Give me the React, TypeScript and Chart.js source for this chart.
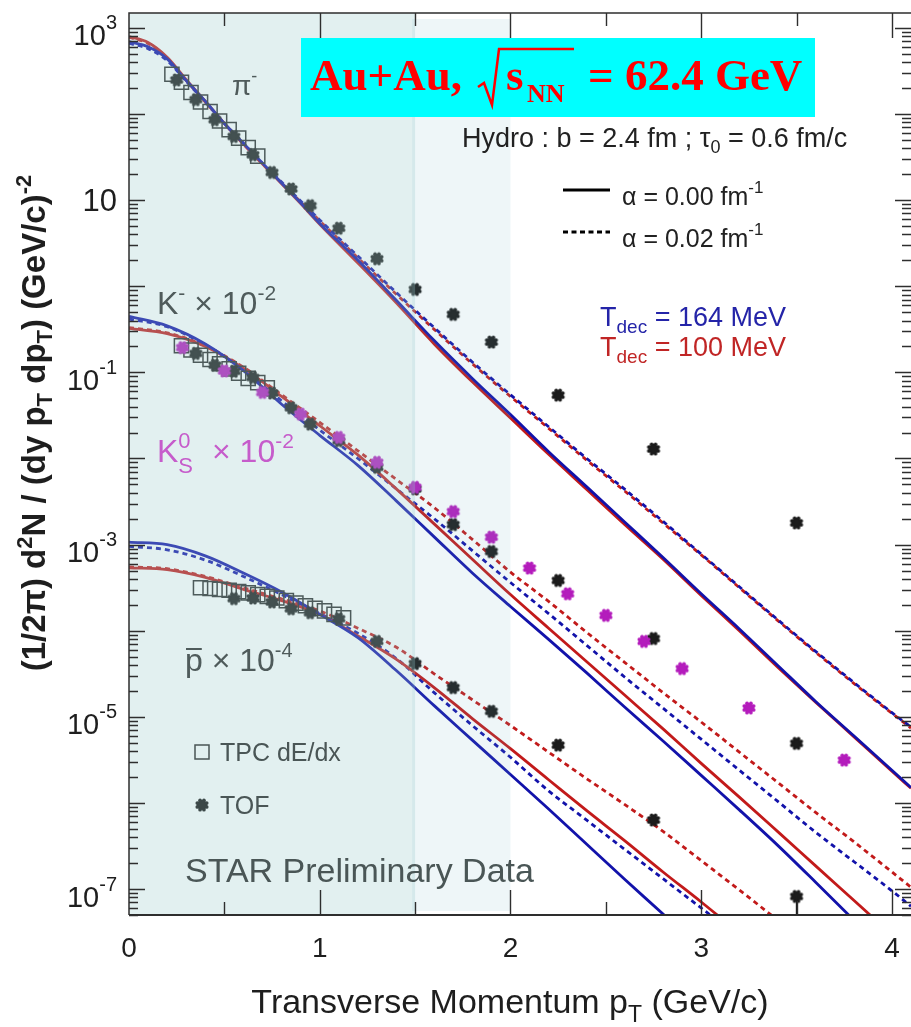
import React, { useEffect, useRef } from "react";
import { Chart, registerables } from "chart.js";

Chart.register(...registerables);

// ---- axis limits ----
const xMin = 0;
const xMax = 4.1;
const yMin = 5e-8;
const yMax = 1.49e3;

// ---- hydro curves: pi- ----
const pionX = [0, 0.1, 0.2, 0.3, 0.4, 0.5, 0.6, 0.7, 0.8, 0.9, 1.0, 1.2, 1.4, 1.6, 1.8, 2.0, 2.2, 2.4, 2.6, 2.8, 3.0, 3.2, 3.4, 3.6, 3.8, 4.0, 4.1];
const pionT164a0 = [692, 603, 437, 245, 141, 77.6, 45.7, 26.9, 15.8, 9.33, 5.37, 2.0, 0.692, 0.234, 0.0851, 0.0324, 0.012, 0.00468, 0.00182, 7.08e-4, 2.69e-4, 1.05e-4, 3.98e-5, 1.51e-5, 6.03e-6, 2.4e-6, 1.51e-6];
const pionT100a0 = [794, 676, 457, 251, 141, 77.6, 44.7, 26.3, 15.5, 9.12, 5.25, 1.86, 0.646, 0.214, 0.0776, 0.0295, 0.0112, 0.00437, 0.0017, 6.76e-4, 2.57e-4, 1.0e-4, 3.8e-5, 1.48e-5, 5.89e-6, 2.34e-6, 1.48e-6];
const pionT164a2 = [661, 575, 417, 240, 138, 77.6, 45.7, 26.9, 16.2, 9.77, 5.89, 2.24, 0.851, 0.331, 0.132, 0.055, 0.0234, 0.01, 0.00437, 0.00186, 7.76e-4, 3.24e-4, 1.35e-4, 5.75e-5, 2.51e-5, 1.12e-5, 7.59e-6];
const pionT100a2 = [776, 661, 447, 245, 138, 77.6, 44.7, 26.3, 15.8, 9.55, 5.75, 2.14, 0.813, 0.316, 0.126, 0.0525, 0.0224, 0.00955, 0.00417, 0.00178, 7.59e-4, 3.16e-4, 1.32e-4, 5.62e-5, 2.45e-5, 1.1e-5, 7.41e-6];

// ---- hydro curves: K- x 1e-2 ----
const kaonX = [0, 0.2, 0.4, 0.6, 0.8, 1.0, 1.2, 1.4, 1.6, 1.8, 2.0, 2.2, 2.4, 2.6, 2.8, 3.0, 3.2, 3.4, 3.6, 3.8, 4.0, 4.1];
const kaonT164a0 = [0.447, 0.347, 0.214, 0.105, 0.0427, 0.0186, 0.00832, 0.00324, 0.00123, 4.68e-4, 1.91e-4, 7.94e-5, 3.24e-5, 1.29e-5, 5.25e-6, 2.09e-6, 8.32e-7, 3.24e-7, 1.2e-7, 4.37e-8, 1.58e-8, 1.0e-8];
const kaonT100a0 = [0.324, 0.282, 0.2, 0.112, 0.0525, 0.024, 0.011, 0.00447, 0.00174, 6.76e-4, 2.63e-4, 1.07e-4, 4.37e-5, 1.78e-5, 7.24e-6, 2.88e-6, 1.17e-6, 4.68e-7, 1.86e-7, 7.41e-8, 2.95e-8, 1.86e-8];
const kaonT164a2 = [0.417, 0.339, 0.209, 0.107, 0.0468, 0.0214, 0.01, 0.00447, 0.002, 8.51e-4, 3.63e-4, 1.58e-4, 6.76e-5, 2.88e-5, 1.26e-5, 5.5e-6, 2.4e-6, 1.05e-6, 4.57e-7, 2.09e-7, 9.55e-8, 6.31e-8];
const kaonT100a2 = [0.331, 0.288, 0.204, 0.115, 0.055, 0.0263, 0.0123, 0.00575, 0.00269, 0.00115, 4.79e-4, 2.19e-4, 9.55e-5, 4.27e-5, 1.91e-5, 8.71e-6, 3.89e-6, 1.74e-6, 7.76e-7, 3.55e-7, 1.58e-7, 1.05e-7];

// ---- hydro curves: anti-proton x 1e-4 ----
const protonX = [0, 0.2, 0.4, 0.6, 0.8, 1.0, 1.2, 1.4, 1.6, 1.8, 2.0, 2.2, 2.4, 2.6, 2.8, 3.0, 3.2, 3.4];
const protonT164a0 = [1.07e-3, 1.0e-3, 7.41e-4, 4.68e-4, 2.82e-4, 1.55e-4, 8.32e-5, 3.47e-5, 1.35e-5, 5.37e-6, 2.14e-6, 8.51e-7, 3.31e-7, 1.29e-7, 5.13e-8, 2.0e-8, 8e-9, 3e-9];
const protonT100a0 = [5.37e-4, 5.13e-4, 4.17e-4, 3.02e-4, 2.24e-4, 1.55e-4, 8.71e-5, 4.68e-5, 2.19e-5, 9.55e-6, 4.27e-6, 1.86e-6, 8.13e-7, 3.63e-7, 1.58e-7, 7.08e-8, 3.09e-8, 1.35e-8];
const protonT164a2 = [9.55e-4, 8.71e-4, 6.61e-4, 4.27e-4, 2.63e-4, 1.58e-4, 9.33e-5, 4.79e-5, 1.91e-5, 7.94e-6, 3.39e-6, 1.38e-6, 6.31e-7, 2.88e-7, 1.32e-7, 6.03e-8, 2.75e-8, 1.25e-8];
const protonT100a2 = [5.5e-4, 5.25e-4, 4.27e-4, 3.16e-4, 2.34e-4, 1.7e-4, 1.07e-4, 6.46e-5, 3.16e-5, 1.58e-5, 7.94e-6, 3.89e-6, 1.91e-6, 9.55e-7, 4.68e-7, 2.14e-7, 9.77e-8, 4.37e-8];

// ---- STAR preliminary data ----
const pionTpcX = [0.225, 0.275, 0.325, 0.375, 0.425, 0.475, 0.525, 0.575, 0.625, 0.675];
const pionTpcY = [290, 234, 178, 138, 107, 83, 66, 52.5, 40.7, 32.4];
const pionTofX = [0.25, 0.35, 0.45, 0.55, 0.65, 0.75, 0.85, 0.95, 1.1, 1.3, 1.5, 1.7, 1.9, 2.25, 2.75, 3.5];
const pionTofY = [249, 147, 86, 55, 33.7, 21, 13.5, 8.65, 4.73, 2.09, 0.92, 0.472, 0.225, 0.0545, 0.0129, 0.00179];

const kaonTpcX = [0.275, 0.325, 0.375, 0.425, 0.475, 0.525, 0.575, 0.625, 0.675, 0.725];
const kaonTpcY = [0.204, 0.182, 0.158, 0.141, 0.126, 0.11, 0.0977, 0.0851, 0.0759, 0.0661];
const kaonTofX = [0.35, 0.45, 0.55, 0.65, 0.75, 0.85, 0.95, 1.1, 1.3, 1.5, 1.7, 1.9, 2.25, 2.75, 3.5];
const kaonTofY = [0.166, 0.1216, 0.103, 0.0873, 0.0577, 0.0389, 0.0251, 0.0161, 0.0079, 0.00444, 0.00171, 8.32e-4, 3.84e-4, 8.13e-5, 4.92e-6];

const k0sX = [0.28, 0.5, 0.7, 0.9, 1.1, 1.3, 1.5, 1.7, 1.9, 2.1, 2.3, 2.5, 2.7, 2.9, 3.25, 3.75];
const k0sY = [0.194, 0.104, 0.0585, 0.0328, 0.0176, 0.00904, 0.00463, 0.00242, 0.00122, 5.35e-4, 2.69e-4, 1.51e-4, 7.53e-5, 3.64e-5, 1.27e-5, 3.15e-6];

const protonTpcX = [0.375, 0.425, 0.475, 0.525, 0.575, 0.625, 0.675, 0.725, 0.775, 0.825, 0.875, 0.925, 0.975, 1.025, 1.075, 1.125];
const protonTpcY = [3.16e-4, 3.09e-4, 3.02e-4, 2.95e-4, 2.85e-4, 2.75e-4, 2.63e-4, 2.51e-4, 2.4e-4, 2.24e-4, 2.09e-4, 1.95e-4, 1.82e-4, 1.7e-4, 1.55e-4, 1.41e-4];
const protonTofX = [0.55, 0.65, 0.75, 0.85, 0.95, 1.1, 1.3, 1.5, 1.7, 1.9, 2.25, 2.75, 3.5];
const protonTofY = [2.36e-4, 2.4e-4, 2.16e-4, 1.8e-4, 1.62e-4, 1.38e-4, 7.53e-5, 4.16e-5, 2.19e-5, 1.16e-5, 4.7e-6, 6.35e-7, 8.22e-8];

// lower error bar of the last anti-proton point
const protonErrX = [3.5, 3.5];
const protonErrY = [8.22e-8, 1e-8];

// ---- shaded pT bands ----
const bandInner = [0, 1.5];
const bandOuter = [1.485, 2.0];

// ---- tick labels ----
const yLabelValues = [1e3, 1e1, 1e-1, 1e-3, 1e-5, 1e-7];
const yLabelExps = ["3", "", "-1", "-3", "-5", "-7"];
const xLabelValues = [0, 1, 2, 3, 4];

const SANS = '"Liberation Sans", Arial, Helvetica, sans-serif';
const SERIF = '"Liberation Serif", "Times New Roman", serif';

const BLUE = "#1212aa";
const RED = "#c21a1a";
const DARK = "#1c1c1c";
const MAGENTA = "#b41cbc";

type Seg = { t: string; s: number; dy?: number; w?: string; f?: string; stay?: boolean };

function segFont(g: Seg) {
  return `${g.w || "normal"} ${g.s}px ${g.f || SANS}`;
}

function richWidth(ctx: CanvasRenderingContext2D, segs: Seg[]) {
  let w = 0;
  for (const g of segs) {
    ctx.font = segFont(g);
    if (!g.stay) w += ctx.measureText(g.t).width;
  }
  return w;
}

function drawRich(
  ctx: CanvasRenderingContext2D,
  x: number,
  y: number,
  segs: Seg[],
  align: "left" | "center" | "right",
  color: string
) {
  const total = richWidth(ctx, segs);
  let cx = align === "center" ? x - total / 2 : align === "right" ? x - total : x;
  ctx.fillStyle = color;
  ctx.textAlign = "left";
  ctx.textBaseline = "alphabetic";
  for (const g of segs) {
    ctx.font = segFont(g);
    ctx.fillText(g.t, cx, y + (g.dy || 0));
    if (!g.stay) cx += ctx.measureText(g.t).width;
  }
  return cx;
}

function cogPath(ctx: CanvasRenderingContext2D, cx: number, cy: number, r: number) {
  ctx.beginPath();
  ctx.arc(cx, cy, r, 0, Math.PI * 2);
  ctx.fill();
  for (let i = 0; i < 8; i++) {
    const a = (i * Math.PI) / 4 + Math.PI / 8;
    ctx.beginPath();
    ctx.arc(cx + Math.cos(a) * r, cy + Math.sin(a) * r, r * 0.36, 0, Math.PI * 2);
    ctx.fill();
  }
}

function makeCog(color: string) {
  const c = document.createElement("canvas");
  c.width = 18;
  c.height = 18;
  const g = c.getContext("2d")!;
  g.fillStyle = color;
  cogPath(g, 9, 9, 5.1);
  return c;
}

function pts(xs: number[], ys: number[]) {
  return xs.map((x, i) => ({ x, y: ys[i] }));
}

const decorPlugin = {
  id: "decor",
  afterDatasetsDraw(chart: any) {
    const { ctx, chartArea: ca, scales } = chart;
    const xs = scales.x;
    ctx.save();
    // translucent acceptance bands over the data
    const a0 = xs.getPixelForValue(bandInner[0]);
    const a1 = xs.getPixelForValue(bandInner[1]);
    ctx.fillStyle = "rgba(158,205,205,0.30)";
    ctx.fillRect(a0, ca.top, a1 - a0, ca.bottom - ca.top);
    const b0 = xs.getPixelForValue(bandOuter[0]);
    const b1 = xs.getPixelForValue(bandOuter[1]);
    ctx.fillStyle = "rgba(113,180,197,0.12)";
    ctx.fillRect(b0, ca.top + 6, b1 - b0, ca.bottom - ca.top - 10);
    ctx.restore();
  },
  afterDraw(chart: any) {
    const { ctx, chartArea: ca, scales } = chart;
    const xs = scales.x;
    const ys = scales.y;
    ctx.save();

    // frame
    ctx.strokeStyle = "#2e2e2e";
    ctx.lineWidth = 1.5;
    ctx.beginPath();
    ctx.moveTo(ca.left, ca.bottom);
    ctx.lineTo(ca.left, ca.top);
    ctx.lineTo(ca.right, ca.top);
    ctx.stroke();
    ctx.lineWidth = 2.2;
    ctx.beginPath();
    ctx.moveTo(ca.left, ca.bottom);
    ctx.lineTo(ca.right, ca.bottom);
    ctx.stroke();

    // log ticks on left and right
    ctx.lineWidth = 1.4;
    for (let e = -9; e <= 4; e++) {
      for (let s = 1; s <= 9; s++) {
        const v = s * Math.pow(10, e);
        if (v < ys.min || v > ys.max) continue;
        const y = Math.round(ys.getPixelForValue(v)) + 0.5;
        const len = s === 1 ? 16 : 9;
        ctx.beginPath();
        ctx.moveTo(ca.left, y);
        ctx.lineTo(ca.left + len, y);
        ctx.moveTo(ca.right, y);
        ctx.lineTo(ca.right - len, y);
        ctx.stroke();
      }
    }
    // linear ticks on bottom and top
    for (let k = 1; k * 0.5 <= xs.max; k++) {
      const v = k * 0.5;
      const x = Math.round(xs.getPixelForValue(v)) + 0.5;
      const len = k % 2 === 0 ? 25 : 13;
      ctx.beginPath();
      ctx.moveTo(x, ca.bottom);
      ctx.lineTo(x, ca.bottom - len);
      ctx.moveTo(x, ca.top);
      ctx.lineTo(x, ca.top + len);
      ctx.stroke();
    }

    // y tick labels
    const labelRight = 117;
    yLabelValues.forEach((v, i) => {
      const y = ys.getPixelForValue(v);
      const ex = yLabelExps[i];
      if (ex) {
        ctx.font = `20px ${SANS}`;
        const ew = ctx.measureText(ex).width;
        const bl = y + 17.5;
        drawRich(ctx, labelRight - ew, bl, [{ t: "10", s: 29 }], "right", "#1e1e1e");
        drawRich(ctx, labelRight - ew, bl - 16, [{ t: ex, s: 20 }], "left", "#1e1e1e");
      } else {
        drawRich(ctx, labelRight, y + 11, [{ t: "10", s: 31 }], "right", "#1e1e1e");
      }
    });

    // x tick labels
    xLabelValues.forEach((v) => {
      const x = xs.getPixelForValue(v);
      drawRich(ctx, x, 957, [{ t: String(v), s: 28 }], "center", "#1e1e1e");
    });

    // axis titles
    drawRich(
      ctx,
      510,
      1013,
      [
        { t: "Transverse Momentum p", s: 34 },
        { t: "T", s: 23, dy: 9 },
        { t: " (GeV/c)", s: 34 },
      ],
      "center",
      "#1e1e1e"
    );
    ctx.save();
    ctx.translate(45, 423);
    ctx.rotate(-Math.PI / 2);
    drawRich(
      ctx,
      0,
      0,
      [
        { t: "(1/2\u03c0) d", s: 33, w: "bold" },
        { t: "2", s: 22, dy: -13, w: "bold" },
        { t: "N / (dy p", s: 33, w: "bold" },
        { t: "T", s: 22, dy: 7, w: "bold" },
        { t: " dp", s: 33, w: "bold" },
        { t: "T", s: 22, dy: 7, w: "bold" },
        { t: ") (GeV/c)", s: 33, w: "bold" },
        { t: "-2", s: 22, dy: -14, w: "bold" },
      ],
      "center",
      "#1e1e1e"
    );
    ctx.restore();

    // species labels
    const gray = "#4f5b5b";
    drawRich(ctx, 232, 95, [{ t: "\u03c0", s: 28 }, { t: "-", s: 18, dy: -13 }], "left", gray);
    drawRich(
      ctx,
      157,
      314,
      [
        { t: "K", s: 32 },
        { t: "-", s: 21, dy: -14 },
        { t: " \u00d7 10", s: 32 },
        { t: "-2", s: 21, dy: -14 },
      ],
      "left",
      gray
    );
    const magText = "#c65ccb";
    drawRich(
      ctx,
      157,
      462,
      [
        { t: "K", s: 32 },
        { t: "0", s: 22, dy: -14, stay: true },
        { t: "S", s: 22, dy: 11 },
      ],
      "left",
      magText
    );
    drawRich(ctx, 212, 462, [{ t: "\u00d7 10", s: 32 }, { t: "-2", s: 21, dy: -14 }], "left", magText);
    const pEnd = drawRich(ctx, 185, 671, [{ t: "p", s: 32 }], "left", gray);
    ctx.strokeStyle = gray;
    ctx.lineWidth = 2;
    ctx.beginPath();
    ctx.moveTo(186, 649);
    ctx.lineTo(pEnd - 1, 649);
    ctx.stroke();
    drawRich(ctx, pEnd, 671, [{ t: " \u00d7 10", s: 32 }, { t: "-4", s: 20, dy: -14 }], "left", gray);

    // data legend
    ctx.strokeStyle = "#4a5656";
    ctx.lineWidth = 1.5;
    ctx.strokeRect(195, 745, 14, 14);
    drawRich(ctx, 220, 761, [{ t: "TPC dE/dx", s: 25 }], "left", "#4a5656");
    ctx.fillStyle = "#3c4848";
    cogPath(ctx, 202, 805, 5.1);
    drawRich(ctx, 220, 814, [{ t: "TOF", s: 25 }], "left", "#4a5656");
    drawRich(ctx, 185, 882, [{ t: "STAR Preliminary Data", s: 34 }], "left", "#4a5656");

    // hydro annotations
    drawRich(
      ctx,
      462,
      147,
      [
        { t: "Hydro : b = 2.4 fm ; \u03c4", s: 27 },
        { t: "0", s: 18, dy: 6 },
        { t: " = 0.6 fm/c", s: 27 },
      ],
      "left",
      "#222222"
    );
    ctx.strokeStyle = "#000000";
    ctx.lineWidth = 3;
    ctx.beginPath();
    ctx.moveTo(563, 190);
    ctx.lineTo(610, 190);
    ctx.stroke();
    ctx.setLineDash([5, 3.5]);
    ctx.beginPath();
    ctx.moveTo(563, 232);
    ctx.lineTo(610, 232);
    ctx.stroke();
    ctx.setLineDash([]);
    drawRich(ctx, 622, 205, [{ t: "\u03b1 = 0.00 fm", s: 25 }, { t: "-1", s: 17, dy: -12 }], "left", "#222222");
    drawRich(ctx, 622, 247, [{ t: "\u03b1 = 0.02 fm", s: 25 }, { t: "-1", s: 17, dy: -12 }], "left", "#222222");

    drawRich(
      ctx,
      600,
      326,
      [
        { t: "T", s: 27 },
        { t: "dec", s: 19, dy: 7 },
        { t: " = 164 MeV", s: 27 },
      ],
      "left",
      "#2424a8"
    );
    drawRich(
      ctx,
      600,
      356,
      [
        { t: "T", s: 27 },
        { t: "dec", s: 19, dy: 7 },
        { t: " = 100 MeV", s: 27 },
      ],
      "left",
      "#c02525"
    );

    // collision system banner
    ctx.fillStyle = "#00ffff";
    ctx.fillRect(301, 38, 514, 79);
    const red = "#ff0000";
    drawRich(ctx, 310, 90, [{ t: "Au+Au,", s: 45, w: "bold", f: SERIF }], "left", red);
    ctx.strokeStyle = red;
    ctx.lineWidth = 2.5;
    ctx.lineJoin = "miter";
    ctx.beginPath();
    ctx.moveTo(478, 87);
    ctx.lineTo(484, 83);
    ctx.lineTo(492, 105);
    ctx.lineTo(499, 49);
    ctx.lineTo(574, 49);
    ctx.stroke();
    drawRich(ctx, 506, 90, [{ t: "s", s: 45, w: "bold", f: SERIF }], "left", red);
    drawRich(ctx, 527, 102, [{ t: "NN", s: 26, w: "bold", f: SERIF }], "left", red);
    drawRich(ctx, 588, 90, [{ t: "= 62.4 GeV", s: 45, w: "bold", f: SERIF }], "left", red);

    ctx.restore();
  },
};

export default function App() {
  const ref = useRef<HTMLCanvasElement | null>(null);

  useEffect(() => {
    document.body.style.margin = "0";
    const canvas = ref.current;
    if (!canvas) return;
    const cogDark = makeCog(DARK);
    const cogMag = makeCog(MAGENTA);

    const curve = (xs: number[], ys: number[], color: string, dotted: boolean) => ({
      data: pts(xs, ys),
      borderColor: color,
      borderWidth: 2.8,
      borderDash: dotted ? [5, 4] : [],
      pointRadius: 0,
      fill: false,
      showLine: true,
      cubicInterpolationMode: "monotone" as const,
      order: 3,
    });
    const squares = (xs: number[], ys: number[]) => ({
      data: pts(xs, ys),
      showLine: false,
      pointStyle: "rect" as const,
      pointRadius: 10,
      pointBorderWidth: 1.5,
      pointBorderColor: "#2a2a2a",
      pointBackgroundColor: "rgba(0,0,0,0)",
      order: 2,
    });
    const cogs = (xs: number[], ys: number[], img: HTMLCanvasElement, order: number) => ({
      data: pts(xs, ys),
      showLine: false,
      pointStyle: img,
      pointRadius: 7,
      order,
    });

    const chart = new Chart(canvas, {
      type: "line",
      data: {
        datasets: [
          curve(pionX, pionT164a0, BLUE, false),
          curve(pionX, pionT100a0, RED, false),
          curve(pionX, pionT164a2, BLUE, true),
          curve(pionX, pionT100a2, RED, true),
          curve(kaonX, kaonT164a0, BLUE, false),
          curve(kaonX, kaonT100a0, RED, false),
          curve(kaonX, kaonT164a2, BLUE, true),
          curve(kaonX, kaonT100a2, RED, true),
          curve(protonX, protonT164a0, BLUE, false),
          curve(protonX, protonT100a0, RED, false),
          curve(protonX, protonT164a2, BLUE, true),
          curve(protonX, protonT100a2, RED, true),
          squares(pionTpcX, pionTpcY),
          squares(kaonTpcX, kaonTpcY),
          squares(protonTpcX, protonTpcY),
          {
            data: pts(protonErrX, protonErrY),
            showLine: true,
            borderColor: DARK,
            borderWidth: 1.5,
            pointRadius: 0,
            order: 1,
          },
          cogs(pionTofX, pionTofY, cogDark, 1),
          cogs(kaonTofX, kaonTofY, cogDark, 1),
          cogs(protonTofX, protonTofY, cogDark, 1),
          cogs(k0sX, k0sY, cogMag, 0),
        ] as any,
      },
      options: {
        responsive: false,
        devicePixelRatio: 1,
        animation: false,
        events: [],
        layout: { autoPadding: false, padding: { left: 129, top: 13, right: 0, bottom: 112 } },
        plugins: { legend: { display: false }, tooltip: { enabled: false } },
        scales: {
          x: { type: "linear", min: xMin, max: xMax, display: false },
          y: { type: "logarithmic", min: yMin, max: yMax, display: false },
        },
      },
      plugins: [decorPlugin],
    });

    return () => chart.destroy();
  }, []);

  return (
    <div style={{ width: 911, height: 1027, background: "#ffffff" }}>
      <canvas ref={ref} width={911} height={1027} style={{ display: "block" }} />
    </div>
  );
}
